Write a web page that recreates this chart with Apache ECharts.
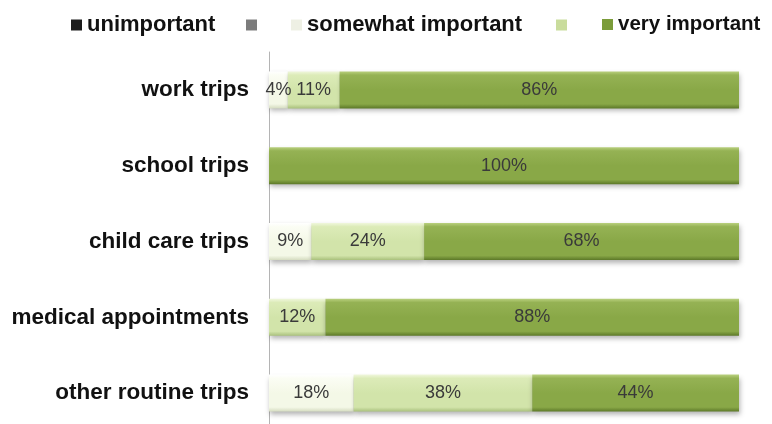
<!DOCTYPE html>
<html>
<head>
<meta charset="utf-8">
<script src="https://cdn.jsdelivr.net/npm/echarts@6/dist/echarts.min.js"></script>
<style>
  html, body { margin: 0; padding: 0; background: #ffffff; overflow: hidden; }
  #chart { width: 772px; height: 431px; }
</style>
</head>
<body>
<div id="chart"></div>
<script>
// Trip purposes, top to bottom
const categories = ['work trips', 'school trips', 'child care trips', 'medical appointments', 'other routine trips'];

// Share of respondents per rating (percent)
const unimportant = [0, 0, 0, 0, 0];
const lowRating = [0, 0, 0, 0, 0];
const somewhatImportant = [4, 0, 9, 0, 18];
const fairlyImportant = [11, 0, 24, 12, 38];
const veryImportant = [86, 100, 68, 88, 44];

const FONT = '"Liberation Sans", Arial, sans-serif';

function bevel(top, hi, mid, bottom) {
  return new echarts.graphic.LinearGradient(0, 0, 0, 1, [
    { offset: 0, color: top },
    { offset: 0.1, color: hi },
    { offset: 0.5, color: mid },
    { offset: 0.88, color: mid },
    { offset: 1, color: bottom }
  ]);
}

const styles = [
  { name: 'unimportant', data: unimportant, fill: bevel('#555', '#333', '#1a1a1a', '#000'), icon: '#1c1c1c' },
  { name: ' ', data: lowRating, fill: bevel('#aaa', '#8a8a8a', '#7a7a7a', '#555'), icon: '#7c7c7c' },
  { name: 'somewhat important', data: somewhatImportant, fill: bevel('#ffffff', '#fbfdf4', '#f4f8e7', '#d5dcc0'), icon: '#eef0e4' },
  { name: '  ', data: fairlyImportant, fill: bevel('#f0f7dc', '#dcebb8', '#d2e4aa', '#a9c07c'), icon: '#c9dc9c' },
  { name: 'very important', data: veryImportant, fill: bevel('#b9d07e', '#95b254', '#89a847', '#5c7828'), icon: '#7b9c3a' }
];

const legendLeft = [66, 241, 286, 551, 597];
const legendFont = [22, 22, 22, 22, 20.5];

const series = styles.map(s => ({
  name: s.name,
  type: 'bar',
  stack: 'total',
  barWidth: 37,
  clip: true,
  data: s.data,
  itemStyle: {
    color: s.fill,
    shadowColor: 'rgba(0,0,0,0.3)',
    shadowBlur: 5,
    shadowOffsetX: 1,
    shadowOffsetY: 3
  },
  label: {
    show: true,
    position: 'inside',
    fontFamily: FONT,
    fontSize: 18,
    color: '#3a3a3a',
    formatter: p => (p.value > 0 ? p.value + '%' : '')
  },
  emphasis: { disabled: true }
}));

const legends = styles.map((s, i) => ({
  left: legendLeft[i],
  top: 9,
  itemWidth: 11,
  itemHeight: 11,
  itemGap: 0,
  icon: 'rect',
  selectedMode: false,
  textStyle: { fontFamily: FONT, fontSize: legendFont[i], fontWeight: 'bold', color: '#111' },
  data: [{ name: s.name, itemStyle: { color: s.icon, shadowBlur: 0 } }]
}));

const chart = echarts.init(document.getElementById('chart'), null, { renderer: 'canvas' });
chart.setOption({
  backgroundColor: '#ffffff',
  animation: false,
  legend: legends,
  grid: { left: 269, right: 33, top: 52, bottom: 0, containLabel: false },
  xAxis: {
    type: 'value',
    min: 0,
    max: 100,
    show: false
  },
  yAxis: {
    type: 'category',
    inverse: true,
    data: categories,
    axisLine: { show: true, lineStyle: { color: '#b4b4b4', width: 1 } },
    axisTick: { show: false },
    axisLabel: {
      margin: 20,
      fontFamily: FONT,
      fontSize: 22.5,
      fontWeight: 'bold',
      color: '#111'
    }
  },
  series: series
});
</script>
</body>
</html>
